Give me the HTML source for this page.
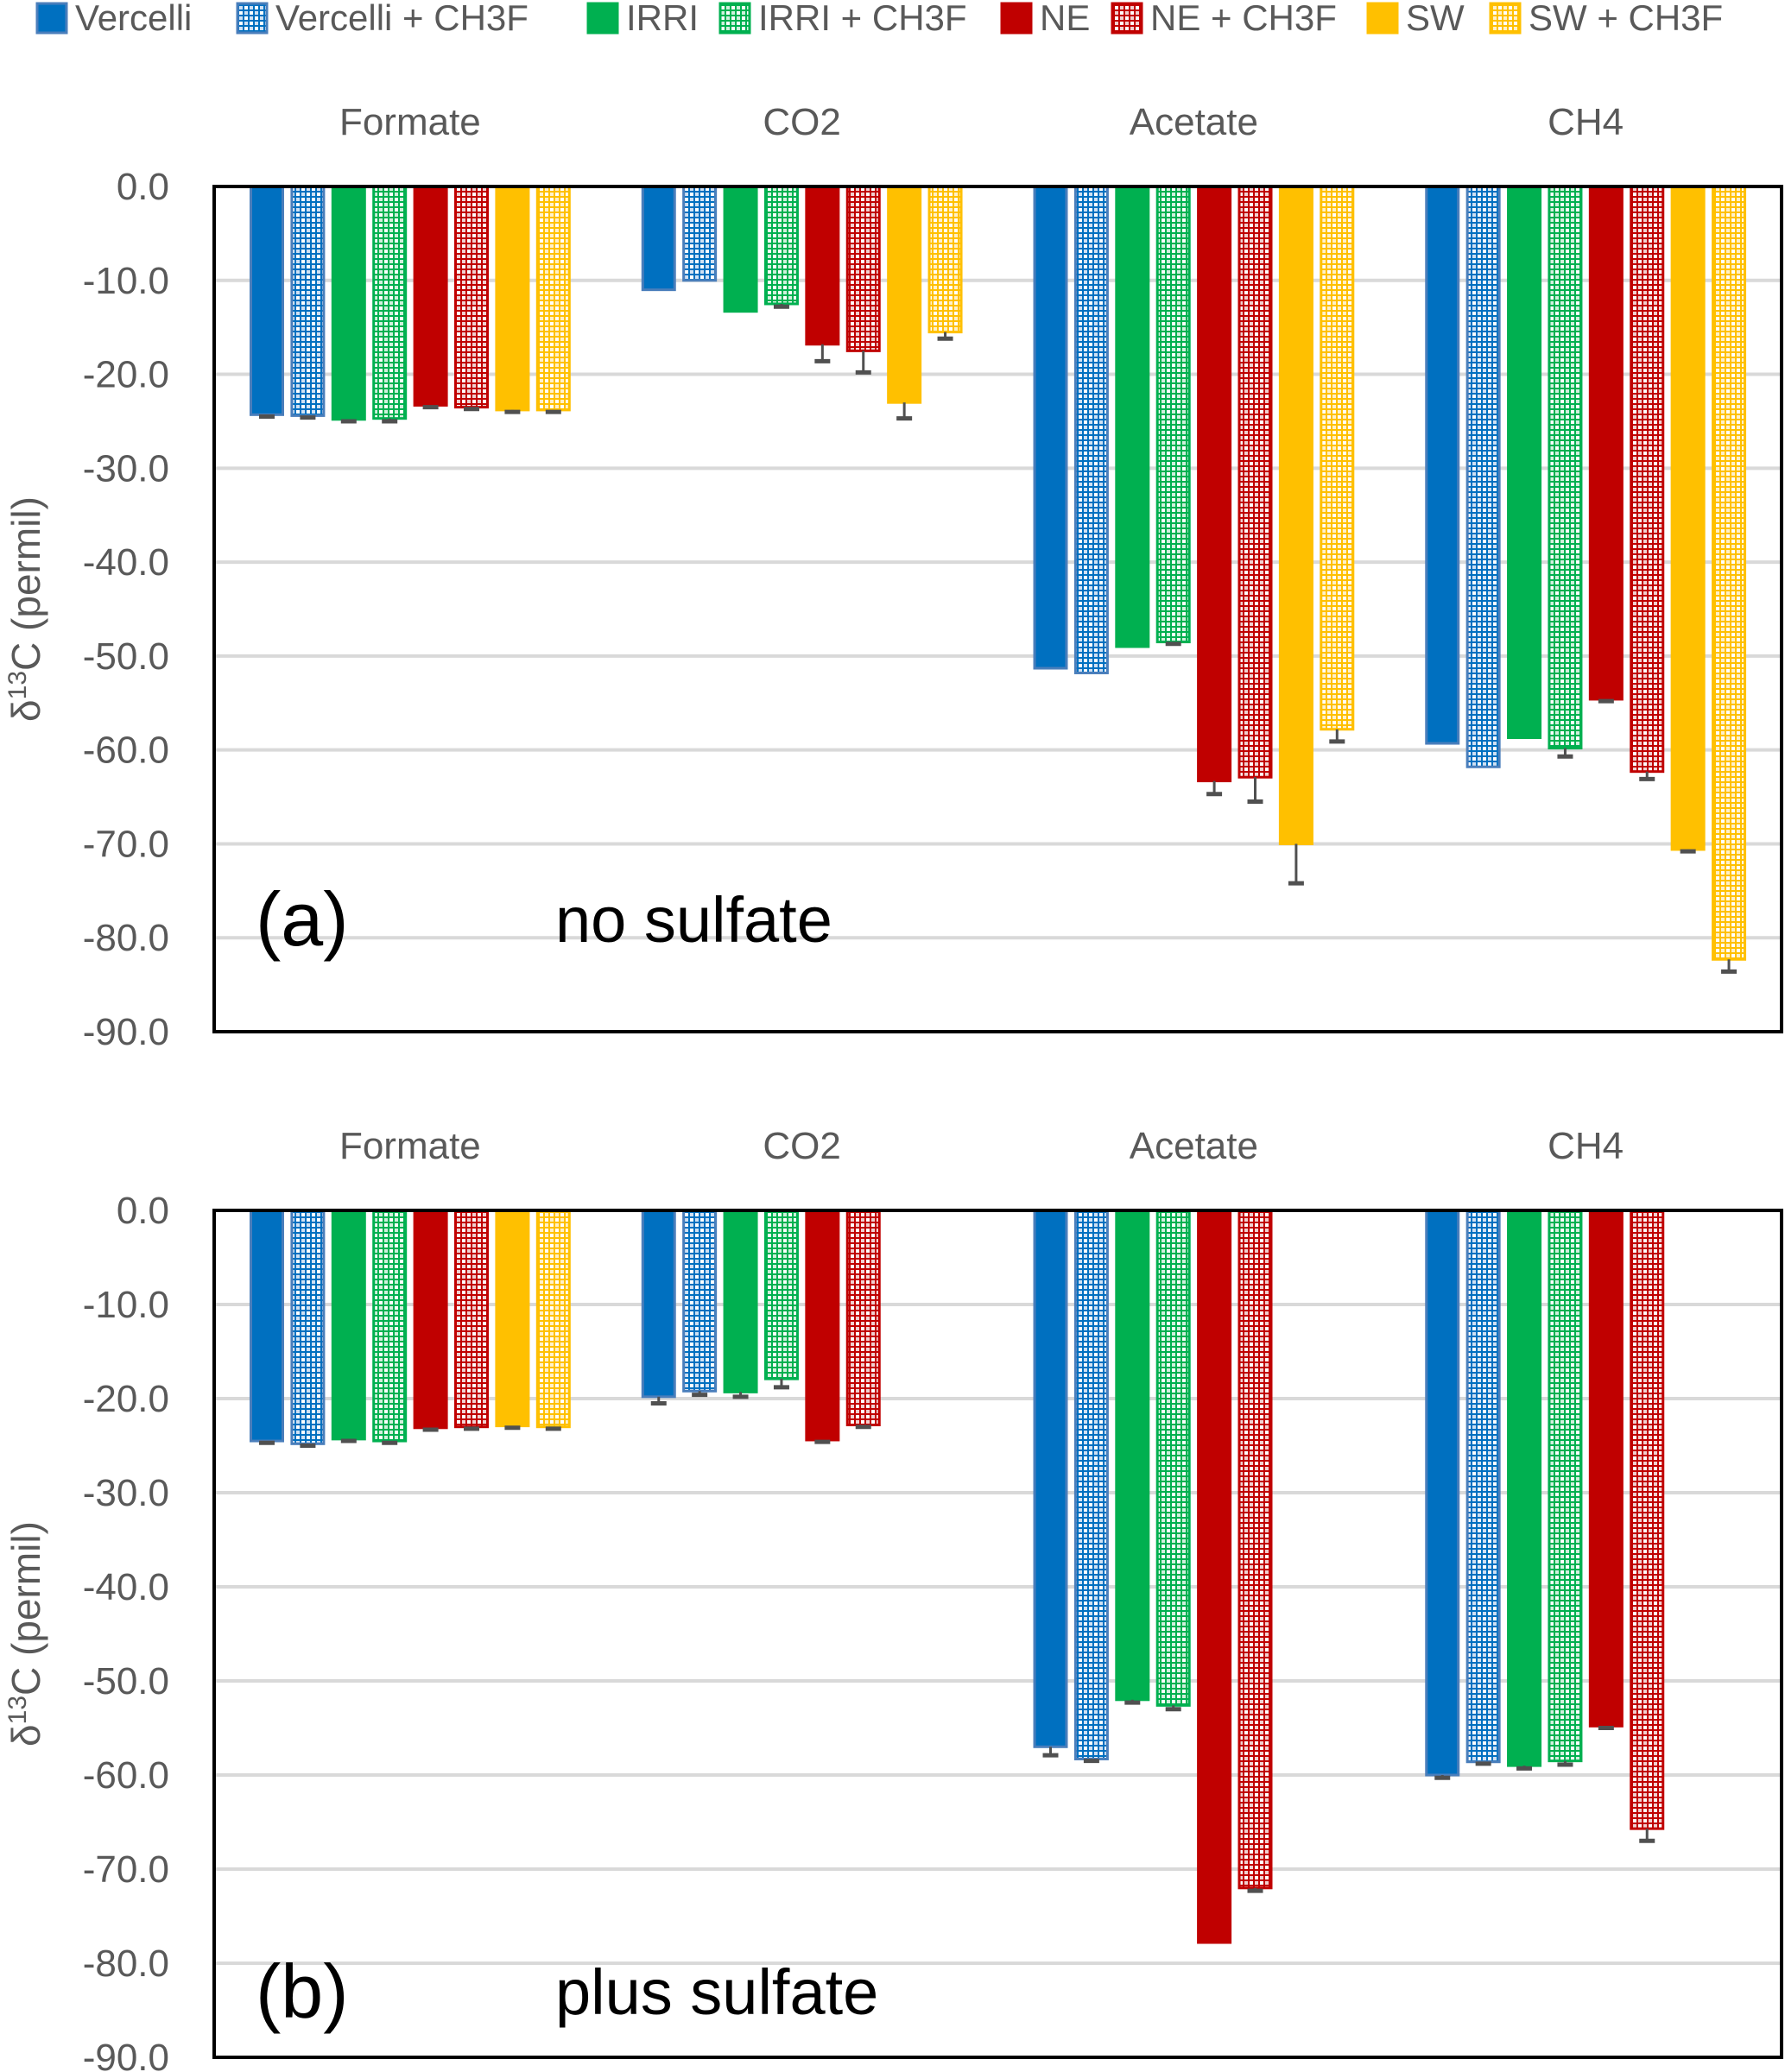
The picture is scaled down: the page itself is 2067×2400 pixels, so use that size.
<!DOCTYPE html>
<html><head><meta charset="utf-8">
<style>
html,body{margin:0;padding:0;background:#fff;}
svg{display:block;font-family:"Liberation Sans",sans-serif;}
</style></head>
<body>
<svg id="chart" width="2067" height="2400" viewBox="0 0 2067 2400" xmlns="http://www.w3.org/2000/svg">
<defs>
<pattern id="pat-blue" width="12" height="12" patternUnits="userSpaceOnUse"><rect width="12" height="12" fill="#0070C0"/><rect x="1" y="1" width="4" height="4" fill="#fff"/><rect x="7" y="7" width="4" height="4" fill="#fff"/><rect x="7" y="1" width="4" height="4" fill="#cfe0f3"/><rect x="1" y="7" width="4" height="4" fill="#cfe0f3"/></pattern>
<pattern id="pat-green" width="12" height="12" patternUnits="userSpaceOnUse"><rect width="12" height="12" fill="#00B050"/><rect x="1" y="1" width="4" height="4" fill="#fff"/><rect x="7" y="7" width="4" height="4" fill="#fff"/><rect x="7" y="1" width="4" height="4" fill="#d0f0dc"/><rect x="1" y="7" width="4" height="4" fill="#d0f0dc"/></pattern>
<pattern id="pat-red" width="12" height="12" patternUnits="userSpaceOnUse"><rect width="12" height="12" fill="#C00000"/><rect x="1" y="1" width="4" height="4" fill="#fff"/><rect x="7" y="7" width="4" height="4" fill="#fff"/><rect x="7" y="1" width="4" height="4" fill="#f0d0d0"/><rect x="1" y="7" width="4" height="4" fill="#f0d0d0"/></pattern>
<pattern id="pat-yellow" width="12" height="12" patternUnits="userSpaceOnUse"><rect width="12" height="12" fill="#FFC000"/><rect x="1" y="1" width="4" height="4" fill="#fff"/><rect x="7" y="7" width="4" height="4" fill="#fff"/><rect x="7" y="1" width="4" height="4" fill="#fff0c8"/><rect x="1" y="7" width="4" height="4" fill="#fff0c8"/></pattern>
</defs>
<g id="legend"></g>
<g id="panelA"></g>
<g id="panelB"></g>
</svg>
<script>
const categories = ["Formate","CO2","Acetate","CH4"];
const seriesNames = ["Vercelli","Vercelli + CH3F","IRRI","IRRI + CH3F","NE","NE + CH3F","SW","SW + CH3F"];
const tickLabels = ["0.0","-10.0","-20.0","-30.0","-40.0","-50.0","-60.0","-70.0","-80.0","-90.0"];
const tickValues = [0,-10,-20,-30,-40,-50,-60,-70,-80,-90];
// Panel (a) no sulfate
const formateA = [-24.3,-24.4,-24.8,-24.7,-23.3,-23.5,-23.8,-23.8];
const co2A     = [-11.0,-10.0,-13.3,-12.5,-16.8,-17.5,-23.0,-15.5];
const acetateA = [-51.3,-51.8,-49.0,-48.5,-63.3,-62.9,-70.0,-57.8];
const ch4A     = [-59.3,-61.8,-58.7,-59.8,-54.6,-62.3,-70.6,-82.3];
const formateAErr = [0.2,0.2,0.2,0.3,0.2,0.2,0.2,0.2];
const co2AErr     = [0,0,0,0.3,1.8,2.3,1.7,0.7];
const acetateAErr = [0,0,0,0.2,1.4,2.6,4.2,1.3];
const ch4AErr     = [0,0,0,0.9,0.2,0.8,0.2,1.3];
// Panel (b) plus sulfate
const formateB = [-24.5,-24.8,-24.3,-24.5,-23.1,-23.0,-22.9,-23.0];
const co2B     = [-19.8,-19.2,-19.3,-17.9,-24.4,-22.8,null,null];
const acetateB = [-57.0,-58.3,-52.0,-52.6,-77.8,-72.0,null,null];
const ch4B     = [-60.0,-58.6,-59.0,-58.5,-54.8,-65.7,null,null];
const formateBErr = [0.2,0.2,0.2,0.2,0.2,0.2,0.2,0.2];
const co2BErr     = [0.7,0.4,0.5,0.9,0.2,0.2,0,0];
const acetateBErr = [0.9,0.2,0.3,0.4,0,0.3,0,0];
const ch4BErr     = [0.3,0.2,0.3,0.4,0.2,1.3,0,0];

const NS="http://www.w3.org/2000/svg";
const colors=["#0070C0","#0070C0","#00B050","#00B050","#C00000","#C00000","#FFC000","#FFC000"];
const pats=["url(#pat-blue)","url(#pat-green)","url(#pat-red)","url(#pat-yellow)"];
const borders=["#4a7ebb","#4a7ebb","#00B050","#00B050","#C00000","#C00000","#FFC000","#FFC000"];
function fillFor(i){return i%2===1?pats[(i-1)/2]:colors[i];}
function mk(tag,attrs,parent){const e=document.createElementNS(NS,tag);for(const k in attrs)e.setAttribute(k,attrs[k]);parent.appendChild(e);return e;}

const lg=document.getElementById('legend');
const legendX=[43,275,681,834,1160,1288,1584,1726];
seriesNames.forEach((n,i)=>{
  const g=mk('g',{},lg);
  
  
  mk('rect',{x:legendX[i],y:4,width:34,height:34,fill:fillFor(i),stroke:borders[i],'stroke-width':3},g);
  const t=mk('text',{x:legendX[i]+44,y:35,'font-size':42,fill:'#595959'},g);
  t.textContent=n;
});

function drawPanel(gid,top,bottom,data,errs,label,note,labelOff){
  const g=document.getElementById(gid);
  const left=248,right=2063;
  const y=v=>top+(-v/90)*(bottom-top);
  const catW=(right-left)/categories.length;
  const xBar=(c,i)=>left+c*catW+41+i*47.4;
  tickValues.forEach((v,k)=>{
    if(k>0&&k<tickValues.length-1){
      const l=mk('line',{x1:left,x2:right,y1:y(v),y2:y(v),stroke:'#d9d9d9','stroke-width':4},g);
      
      
    }
    const t=mk('text',{x:196,y:y(v)+15,'font-size':44,fill:'#595959','text-anchor':'end'},g);
    
    
    t.textContent=tickLabels[k];
  });
  categories.forEach((c,ci)=>{
    const t=mk('text',{x:left+catW*(ci+0.5),y:top-60,'font-size':44,fill:'#595959','text-anchor':'middle'},g);
    
    
    t.textContent=c;
    data[ci].forEach((v,i)=>{
      if(v===null)return;
      const x=xBar(ci,i),w=40;
      const r=mk('rect',{x:x+1.5,y:top,width:w-3,height:y(v)-top,fill:fillFor(i),stroke:borders[i],'stroke-width':3},g);
      
      
      const e=errs[ci][i];
      if(e>0){
        const ye=y(v-e);
        const eg=mk('g',{stroke:'#505050'},g);
        
        
        mk('line',{x1:x+w/2,x2:x+w/2,y1:y(v),y2:ye,'stroke-width':3},eg);
        mk('line',{x1:x+w/2-9,x2:x+w/2+9,y1:ye,y2:ye,'stroke-width':5},eg);
      }
    });
  });
  const b=mk('rect',{x:left,y:top,width:right-left,height:bottom-top,fill:'none',stroke:'#000','stroke-width':4},g);
  
  
  const yt=mk('text',{transform:`translate(46,${(top+bottom)/2}) rotate(-90)`,'font-size':46,fill:'#595959','text-anchor':'middle'},g);
  
  
  yt.innerHTML='δ<tspan font-size="30" dy="-16">13</tspan><tspan dy="16">C (permil)</tspan>';
  const pl=mk('text',{x:296,y:bottom-labelOff,'font-size':88,fill:'#000'},g);
  
  
  pl.textContent=label;
  const nt=mk('text',{x:643,y:bottom-labelOff-4,'font-size':74,fill:'#000'},g);
  
  
  nt.textContent=note;
}
drawPanel('panelA',216,1195,[formateA,co2A,acetateA,ch4A],[formateAErr,co2AErr,acetateAErr,ch4AErr],'(a)','no sulfate',100);
drawPanel('panelB',1402,2383,[formateB,co2B,acetateB,ch4B],[formateBErr,co2BErr,acetateBErr,ch4BErr],'(b)','plus sulfate',46);
</script>
</body></html>
